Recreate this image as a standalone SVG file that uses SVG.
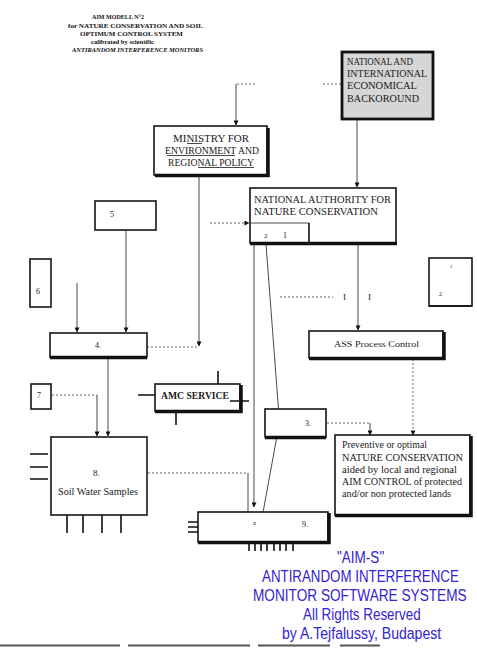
<svg xmlns="http://www.w3.org/2000/svg" width="477" height="648" viewBox="0 0 477 648">
<defs>
<marker id="ar" viewBox="0 0 6 6" refX="5.5" refY="3" markerWidth="5" markerHeight="5" orient="auto" markerUnits="userSpaceOnUse">
<path d="M0,0 L6,3 L0,6 z" fill="#111"/>
</marker>
<style>
.bx{fill:#fff;stroke:#151515;stroke-width:1.6}
.thk{stroke:#111;stroke-width:3.5;fill:none}
.ln{stroke:#333;stroke-width:0.9;fill:none}
.dot{stroke:#555;stroke-width:0.9;fill:none;stroke-dasharray:2 2}
.stub{stroke:#111;stroke-width:1.6;fill:none}
.t{font-family:"Liberation Sans","Liberation Serif","Times New Roman",serif;fill:#1a1a1a}
.t{font-family:"Liberation Serif","Times New Roman",serif}
.ttl{font-family:"Liberation Serif","Times New Roman",serif;fill:#111;font-weight:bold;font-size:7px}
.blue{font-family:"Liberation Sans",Arial,sans-serif;fill:#3323d2;font-size:17px}
</style>
</defs>
<rect width="477" height="648" fill="#fff"/>

<g id="title">
<text class="ttl" x="92" y="19" textLength="52" lengthAdjust="spacingAndGlyphs" font-size="8">AIM MODELL N°2</text>
<text class="ttl" x="68" y="28" textLength="135" lengthAdjust="spacingAndGlyphs">for NATURE CONSERVATION AND SOIL</text>
<text class="ttl" x="80" y="36" textLength="103" lengthAdjust="spacingAndGlyphs">OPTIMUM CONTROL SYSTEM</text>
<text class="ttl" x="91" y="44" textLength="63" lengthAdjust="spacingAndGlyphs">calibrated by scientific</text>
<text class="ttl" x="72" y="52" textLength="131" lengthAdjust="spacingAndGlyphs" font-style="italic" font-weight="normal">ANTIRANDOM INTERFERENCE MONITORS</text>
</g>

<g id="connectors">
<path class="dot" d="M255,84 H236"/>
<path class="ln" d="M236,84 V125" marker-end="url(#ar)"/>
<path class="dot" d="M323,84 H342"/>
<path class="ln" d="M357,119 V187" marker-end="url(#ar)"/>
<path class="ln" d="M199,175 V346" marker-end="url(#ar)"/>
<path class="dot" d="M147,347 H199"/>
<path class="dot" d="M210,223 H249" marker-end="url(#ar)"/>
<path class="ln" d="M254,244 V507" marker-end="url(#ar)"/>
<path class="ln" d="M266,244 L279,416" marker-end="url(#ar)"/>
<path class="ln" d="M279,425 L262,518" marker-end="url(#ar)"/>
<path class="dot" d="M140,473 H248"/>
<path class="ln" d="M248,473 V518" marker-end="url(#ar)"/>
<path class="ln" d="M358,244 V330" marker-end="url(#ar)"/>
<path class="dot" d="M413,359 V435" marker-end="url(#ar)"/>
<path class="dot" d="M327,423 H370"/>
<path class="ln" d="M370,423 V435" marker-end="url(#ar)"/>
<path class="ln" d="M126,230 V332" marker-end="url(#ar)"/>
<path class="ln" d="M77,283 V332" marker-end="url(#ar)"/>
<path class="ln" d="M108,357 V436" marker-end="url(#ar)"/>
<path class="dot" d="M52,395 H97"/>
<path class="ln" d="M97,395 V436" marker-end="url(#ar)"/>
<path class="dot" d="M280,297 H333" stroke="#ccc"/>
</g>

<g id="national-background">
<rect x="342" y="52" width="91" height="67" fill="#d6d6d6" stroke="#111" stroke-width="2.8"/>
<g class="t" font-size="10.5">
<text x="347" y="65" textLength="66" lengthAdjust="spacingAndGlyphs">NATIONAL AND</text>
<text x="347" y="77" textLength="80" lengthAdjust="spacingAndGlyphs">INTERNATIONAL</text>
<text x="347" y="89" textLength="70" lengthAdjust="spacingAndGlyphs">ECONOMICAL</text>
<text x="347" y="102" textLength="72" lengthAdjust="spacingAndGlyphs">BACKOROUND</text>
</g>
</g>

<g id="ministry">
<rect class="bx" x="154" y="126" width="113" height="49"/>
<path class="thk" d="M155,175.5 H268 V128" stroke-width="3"/>
<g class="t" font-size="10">
<text x="173" y="142" textLength="76" lengthAdjust="spacingAndGlyphs">MINISTRY FOR</text>
<text x="165" y="154" textLength="94" lengthAdjust="spacingAndGlyphs">ENVIRONMENT AND</text>
<text x="168" y="166" textLength="86" lengthAdjust="spacingAndGlyphs">REGIONAL POLICY</text>
</g>
<path class="ln" d="M187,143.5 H202 M167,155.5 H235 M198,167.5 H254" stroke-width="0.7"/>
</g>

<g id="national-authority">
<rect class="bx" x="250" y="188" width="146" height="55" stroke-width="2.4"/>
<path class="thk" d="M250,243.5 H397" stroke-width="3"/>
<path class="ln" d="M250,223 H309"/>
<path class="stub" d="M309,223 V243" stroke-width="2"/>
<g class="t" font-size="10">
<text x="254" y="203" textLength="137" lengthAdjust="spacingAndGlyphs">NATIONAL AUTHORITY FOR</text>
<text x="254" y="215" textLength="124" lengthAdjust="spacingAndGlyphs">NATURE CONSERVATION</text>
<text x="264" y="238" font-size="7">2</text>
<text x="283" y="238" font-size="8">1</text>
</g>
</g>

<g id="label-1-1" class="t" font-size="9">
<text x="343" y="300">I</text>
<text x="368" y="300">I</text>
</g>

<g id="box-12">
<rect class="bx" x="429" y="258" width="43" height="48"/>
<path class="stub" d="M429,306 H472" stroke-width="2"/>
<text class="t" x="450" y="268" font-size="5">1</text>
<text class="t" x="439" y="296" font-size="6">2</text>
</g>

<g id="ass">
<rect class="bx" x="309" y="331" width="134" height="27"/>
<path class="thk" d="M309,358.5 H444 V332" stroke-width="3"/>
<text class="t" x="334" y="347" font-size="9" textLength="85" lengthAdjust="spacingAndGlyphs">ASS Process Control</text>
</g>

<g id="box-5">
<rect class="bx" x="95" y="201" width="61" height="29"/>
<text class="t" x="110" y="217" font-size="8">5</text>
</g>

<g id="box-6">
<rect class="bx" x="30" y="259" width="21" height="48"/>
<text class="t" x="36" y="294" font-size="8">6</text>
</g>

<g id="box-4">
<rect class="bx" x="50" y="333" width="97" height="24"/>
<path class="thk" d="M50,357.5 H147" stroke-width="2.4"/>
<text class="t" x="95" y="348" font-size="8">4.</text>
</g>

<g id="box-7">
<rect class="bx" x="31" y="384" width="20" height="25"/>
<text class="t" x="37" y="398" font-size="8">7</text>
</g>

<g id="amc">
<rect class="bx" x="155" y="384" width="85" height="27"/>
<path class="thk" d="M155,411.5 H241 V385" stroke-width="3"/>
<path class="stub" d="M218,371 V384 M138,395 H155 M230,401 H249 M176,411 V425"/>
<text class="t" x="161" y="399" font-size="10.5" font-weight="bold" textLength="68" lengthAdjust="spacingAndGlyphs">AMC SERVICE</text>
</g>

<g id="box-3">
<rect class="bx" x="265" y="409" width="61" height="28"/>
<path class="thk" d="M265,437.5 H326" stroke-width="2.2"/>
<text class="t" x="305" y="426" font-size="8">3.</text>
</g>

<g id="preventive">
<rect class="bx" x="335" y="435" width="135" height="80" stroke-width="2.2"/>
<path class="thk" d="M335,515.5 H471 V436" stroke-width="2.6"/>
<g class="t" font-size="9.5">
<text x="342" y="448" textLength="85" lengthAdjust="spacingAndGlyphs">Preventive or optimal</text>
<text x="342" y="461" textLength="121" lengthAdjust="spacingAndGlyphs">NATURE CONSERVATION</text>
<text x="342" y="473" textLength="115" lengthAdjust="spacingAndGlyphs">aided by local and regional</text>
<text x="342" y="485" textLength="120" lengthAdjust="spacingAndGlyphs">AIM CONTROL of protected</text>
<text x="342" y="497" textLength="109" lengthAdjust="spacingAndGlyphs">and/or non protected lands</text>
</g>
</g>

<g id="soil">
<rect class="bx" x="51" y="437" width="96" height="78"/>
<path class="stub" d="M30,454 H48 M30,467 H48 M30,479 H48 M67,515 V533 M83,515 V533 M102,515 V533 M121,515 V533"/>
<text class="t" x="93" y="476" font-size="9">8.</text>
<text class="t" x="58" y="495" font-size="9.5" textLength="80" lengthAdjust="spacingAndGlyphs">Soil Water Samples</text>
</g>

<g id="box-9">
<rect class="bx" x="198" y="512" width="130" height="30"/>
<path class="thk" d="M198,542.5 H329 V513" stroke-width="3"/>
<path class="stub" d="M188,522 H198 M188,527 H198 M188,532 H198" stroke-width="1.2"/>
<path class="stub" d="M249,542 V551 M255,542 V551 M261,542 V551 M267,542 V551 M274,542 V551 M280,542 V551 M286,542 V551 M293,542 V551" stroke-width="1.2"/>
<text class="t" x="253" y="525" font-size="6">x</text>
<text class="t" x="302" y="527" font-size="8">9.</text>
</g>

<g id="credits">
<text class="blue" transform="translate(337,563) scale(0.8,1)" textLength="59" lengthAdjust="spacingAndGlyphs">"AIM-S"</text>
<text class="blue" transform="translate(262,582) scale(0.8,1)" textLength="246" lengthAdjust="spacingAndGlyphs">ANTIRANDOM INTERFERENCE</text>
<text class="blue" transform="translate(253,601) scale(0.8,1)" textLength="267" lengthAdjust="spacingAndGlyphs">MONITOR SOFTWARE SYSTEMS</text>
<text class="blue" transform="translate(303,620) scale(0.8,1)" textLength="147" lengthAdjust="spacingAndGlyphs">All Rights Reserved</text>
<text class="blue" transform="translate(282,639) scale(0.8,1)" textLength="199" lengthAdjust="spacingAndGlyphs">by A.Tejfalussy, Budapest</text>
</g>

<path d="M0,645.5 H120 M128,645.5 H250 M258,645.5 H330 M340,645.5 H380" stroke="#555" stroke-width="2"/>
</svg>
